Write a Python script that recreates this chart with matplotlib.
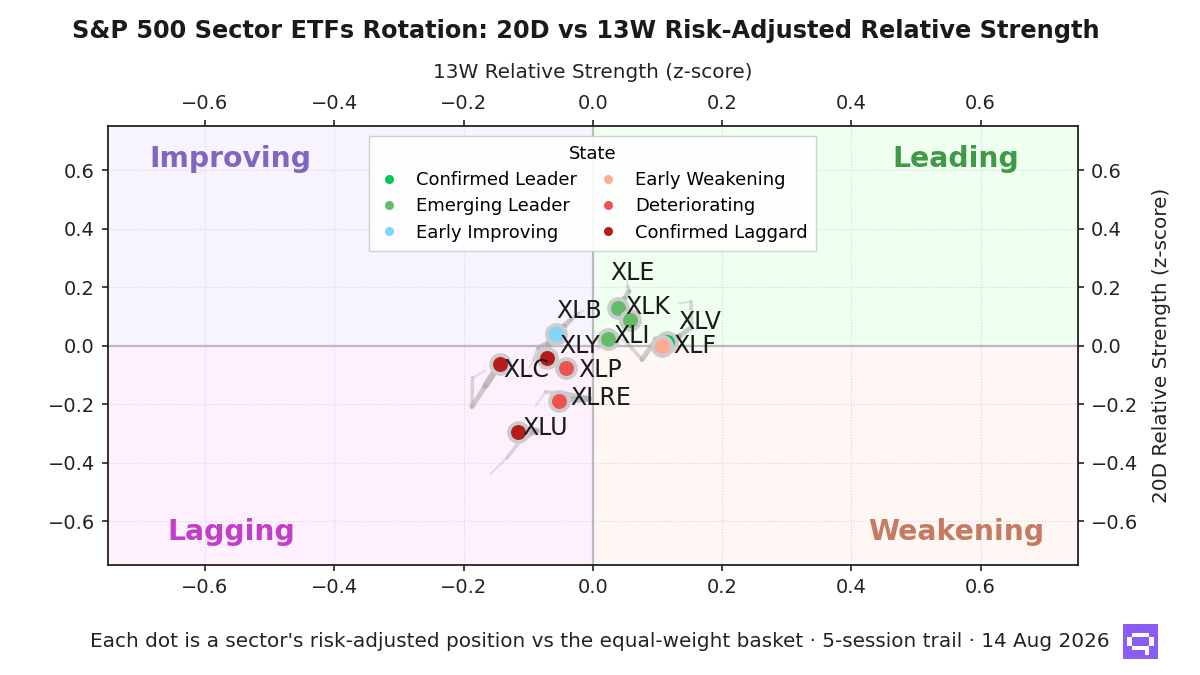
import numpy as np
import matplotlib
matplotlib.use("Agg")
from matplotlib import pyplot as plt
from matplotlib.lines import Line2D

# sectors, current state and 5-session trail (oldest -> newest, last = current)
tickers = ['XLK', 'XLE', 'XLI', 'XLV', 'XLF', 'XLB', 'XLY', 'XLP', 'XLC', 'XLRE', 'XLU']
states = ['Emerging Leader', 'Emerging Leader', 'Emerging Leader', 'Confirmed Leader',
          'Early Weakening', 'Early Improving', 'Confirmed Laggard', 'Deteriorating',
          'Confirmed Laggard', 'Deteriorating', 'Confirmed Laggard']

trail_x = {
    'XLK': [0.053, 0.054, 0.056, 0.048, 0.039],
    'XLE': [0.031, 0.037, 0.043, 0.050, 0.057],
    'XLI': [0.006, 0.011, 0.015, 0.019, 0.023],
    'XLV': [0.133, 0.152, 0.153, 0.133, 0.115],
    'XLF': [0.037, 0.053, 0.076, 0.098, 0.107],
    'XLB': [-0.014, -0.022, -0.034, -0.045, -0.057],
    'XLY': [-0.098, -0.091, -0.084, -0.068, -0.071],
    'XLP': [-0.031, -0.034, -0.037, -0.040, -0.042],
    'XLC': [-0.166, -0.186, -0.187, -0.166, -0.144],
    'XLRE': [-0.088, -0.073, -0.045, -0.006, -0.053],
    'XLU': [-0.158, -0.133, -0.111, -0.087, -0.116],
}
trail_y = {
    'XLK': [0.223, 0.202, 0.185, 0.158, 0.127],
    'XLE': [0.113, 0.106, 0.099, 0.092, 0.086],
    'XLI': [-0.014, -0.003, 0.007, 0.014, 0.021],
    'XLV': [0.144, 0.151, 0.062, 0.031, 0.014],
    'XLF': [0.034, 0.010, -0.048, 0.021, -0.003],
    'XLB': [0.120, 0.110, 0.089, 0.065, 0.041],
    'XLY': [-0.075, -0.048, -0.007, 0.010, -0.041],
    'XLP': [-0.050, -0.056, -0.063, -0.069, -0.075],
    'XLC': [-0.086, -0.110, -0.209, -0.137, -0.062],
    'XLRE': [-0.205, -0.158, -0.164, -0.182, -0.188],
    'XLU': [-0.438, -0.384, -0.322, -0.291, -0.295],
}

state_names = ['Confirmed Leader', 'Emerging Leader', 'Early Improving',
               'Early Weakening', 'Deteriorating', 'Confirmed Laggard']
state_colors = {
    'Confirmed Leader': '#00c853',
    'Emerging Leader': '#66bb6a',
    'Early Improving': '#81d4fa',
    'Early Weakening': '#ffab91',
    'Deteriorating': '#ef5350',
    'Confirmed Laggard': '#b71c1c',
}

# label offsets in pixels (dx right, dy down) from the dot
label_offsets = {
    'XLK': (7, -1), 'XLE': (-19, -47), 'XLI': (6, -3), 'XLV': (11, -20),
    'XLF': (11, 0), 'XLB': (0, -23), 'XLY': (12, -12), 'XLP': (13, 2),
    'XLC': (4, 6), 'XLRE': (12, -3), 'XLU': (4, -4),
}

lim = 0.75
ink = '#222222'

fig = plt.figure(figsize=(12, 6.75), dpi=100)
ax = fig.add_axes([0.09, 0.163, 0.808, 0.65])

# quadrant backgrounds
ax.axvspan(-lim, 0, ymin=0.5, ymax=1, color='#f7f4ff', zorder=0, lw=0)
ax.axvspan(0, lim, ymin=0.5, ymax=1, color='#effff0', zorder=0, lw=0)
ax.axvspan(-lim, 0, ymin=0, ymax=0.5, color='#fff0fd', zorder=0, lw=0)
ax.axvspan(0, lim, ymin=0, ymax=0.5, color='#fff7f4', zorder=0, lw=0)

ax.axhline(0, color='#bdb8c4', lw=1.6, zorder=1)
ax.axvline(0, color='#bdb8c4', lw=1.6, zorder=1)

qfont = dict(fontsize=20.3, fontweight='bold', ha='center', va='center', zorder=2)
ax.text(-0.56, 0.637, 'Improving', color='#8066c0', **qfont)
ax.text(0.562, 0.637, 'Leading', color='#3e9a44', **qfont)
ax.text(-0.56, -0.637, 'Lagging', color='#c23fc9', **qfont)
ax.text(0.562, -0.637, 'Weakening', color='#c67a62', **qfont)

# trails
for t in tickers:
    xs = trail_x[t]
    ys = trail_y[t]
    n = len(xs) - 1
    for i in range(n):
        a = 0.3 + 0.4 * i / (n - 1)
        w = 1.6 + 3.0 * i / (n - 1)
        ax.plot(xs[i:i + 2], ys[i:i + 2], color='#a8a8a8', alpha=a, lw=w,
                solid_capstyle='round', zorder=3)

# current positions
for t, s in zip(tickers, states):
    x = trail_x[t][-1]
    y = trail_y[t][-1]
    ax.scatter([x], [y], s=185, color=state_colors[s], edgecolor='#cccccc',
               linewidth=2.8, zorder=4)
    dx, dy = label_offsets[t]
    ax.annotate(t, (x, y), xytext=(dx * 0.72, -dy * 0.72), textcoords='offset points',
                ha='left', va='center', fontsize=17, color='#1a1a1a', zorder=5)

ax.set_xlim(-lim, lim)
ax.set_ylim(-lim, lim)
ticks = [-0.6, -0.4, -0.2, 0.0, 0.2, 0.4, 0.6]
ax.set_xticks(ticks)
ax.set_yticks(ticks)
ax.grid(True, color='#d9d2e6', ls=':', lw=0.8, zorder=0)
ax.set_axisbelow(True)
ax.tick_params(axis='both', labelsize=14, color=ink, labelcolor=ink,
               length=4.5, width=1.2, pad=5,
               top=True, bottom=True, left=True, right=True,
               labeltop=True, labelbottom=True, labelleft=True, labelright=True)
for sp in ax.spines.values():
    sp.set_color(ink)
    sp.set_linewidth(1.3)

ax.xaxis.set_label_position('top')
ax.set_xlabel('13W Relative Strength (z-score)', fontsize=14.4, color=ink, labelpad=11.5)
ax.yaxis.set_label_position('right')
ax.set_ylabel('20D Relative Strength (z-score)', fontsize=14.4, color=ink, labelpad=10)

handles = [Line2D([0], [0], marker='o', ls='', markersize=6.5,
                  markerfacecolor=state_colors[s], markeredgecolor='none', label=s)
           for s in state_names]
leg = ax.legend(handles=handles, title='State', loc='upper center', ncol=2,
                fontsize=13, title_fontsize=13, frameon=True, fancybox=False,
                borderaxespad=0.55, handlelength=1.2, handletextpad=0.9,
                columnspacing=1.1, labelspacing=0.45, borderpad=0.5)
leg.get_frame().set_edgecolor('#cccccc')
leg.get_frame().set_facecolor('white')
leg.get_frame().set_alpha(0.9)
leg.set_zorder(6)

fig.suptitle('S&P 500 Sector ETFs Rotation: 20D vs 13W Risk-Adjusted Relative Strength',
             fontsize=17.3, fontweight='bold', color='#1a1a1a', x=0.488, y=0.972)

fig.text(0.4995, 0.049, "Each dot is a sector's risk-adjusted position vs the equal-weight basket"
         " \u00b7 5-session trail \u00b7 14 Aug 2026", ha='center', va='center',
         fontsize=14.4, color=ink)

# small pixel logo
logo = np.array([
    [0, 0, 0, 0, 0, 0, 0, 0],
    [0, 0, 0, 0, 0, 0, 0, 0],
    [0, 0, 1, 1, 1, 1, 0, 0],
    [0, 1, 0, 0, 0, 0, 1, 0],
    [0, 1, 0, 0, 0, 0, 1, 0],
    [0, 0, 1, 1, 1, 1, 0, 0],
    [0, 0, 0, 0, 0, 1, 0, 0],
    [0, 0, 0, 0, 0, 0, 0, 0],
])
lax = fig.add_axes([1123 / 1200, 1 - 659 / 675, 35 / 1200, 35 / 675])
rgb = np.zeros(logo.shape + (3,))
rgb[:] = np.array([139, 92, 246]) / 255
rgb[logo == 1] = 1.0
lax.imshow(rgb, interpolation='nearest', aspect='auto')
lax.axis('off')

fig.savefig('out.png', dpi=100)
